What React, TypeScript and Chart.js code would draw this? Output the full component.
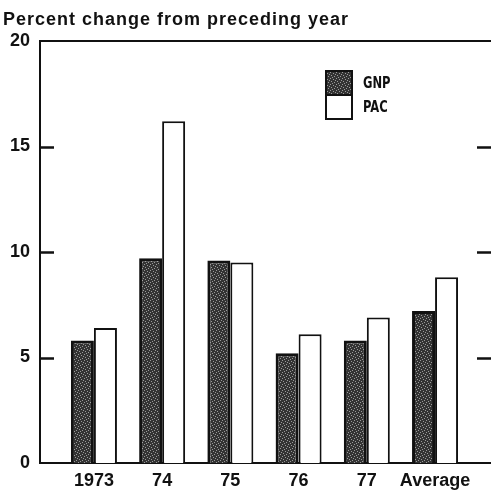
import React, { useEffect, useRef } from "react";
import { Chart, registerables } from "chart.js";

Chart.register(...registerables);

const categories = ["1973", "74", "75", "76", "77", "Average"];
const gnpValues = [5.8, 9.7, 9.6, 5.2, 5.8, 7.2];
const pacValues = [6.4, 16.2, 9.5, 6.1, 6.9, 8.8];
const seriesLabels = ["GNP", "PAC"];
const yTickValues = [0, 5, 10, 15, 20];
const titleText = "Percent change from preceding year";

const INK = "#111";
const FONT = "'Liberation Sans', Arial, Helvetica, sans-serif";

function makeStipple(): CanvasPattern | string {
  const c = document.createElement("canvas");
  c.width = 6;
  c.height = 6;
  const p = c.getContext("2d");
  if (!p) return "#444";
  p.fillStyle = "#333";
  p.fillRect(0, 0, 6, 6);
  p.fillStyle = "#9a9a9a";
  const spots = [
    [0, 0], [3, 1], [1, 3], [4, 4], [2, 5], [5, 2],
  ];
  spots.forEach(([x, y]) => p.fillRect(x, y, 1, 1));
  const pat = p.createPattern(c, "repeat");
  return pat || "#444";
}

export default function App() {
  const ref = useRef<HTMLCanvasElement | null>(null);

  useEffect(() => {
    const canvas = ref.current;
    if (!canvas) return;
    const stipple = makeStipple();

    const framePlugin = {
      id: "frame",
      afterDraw(chart: any) {
        const { ctx, chartArea, scales } = chart;
        const { left, right, top } = chartArea;
        const y = scales.y;
        ctx.save();
        ctx.strokeStyle = INK;
        ctx.lineWidth = 2;
        ctx.beginPath();
        ctx.moveTo(left - 1, top);
        ctx.lineTo(right, top);
        ctx.stroke();
        ctx.lineWidth = 2.5;
        yTickValues
          .filter((v) => v !== y.min && v !== y.max)
          .forEach((v) => {
            const py = Math.round(y.getPixelForValue(v)) + 0.5;
            ctx.beginPath();
            ctx.moveTo(left, py);
            ctx.lineTo(left + 14, py);
            ctx.moveTo(right - 14, py);
            ctx.lineTo(right, py);
            ctx.stroke();
          });
        // title
        ctx.fillStyle = INK;
        ctx.font = `bold 18px ${FONT}`;
        (ctx as any).letterSpacing = "1px";
        ctx.textBaseline = "alphabetic";
        ctx.textAlign = "left";
        ctx.fillText(titleText, 3, 25);
        (ctx as any).letterSpacing = "0px";
        // legend
        const lx = left + 286;
        let ly = top + 30;
        const bw = 26;
        const bh = 24;
        chart.data.datasets.forEach((ds: any) => {
          ctx.fillStyle = ds.backgroundColor;
          ctx.fillRect(lx, ly, bw, bh);
          ctx.strokeStyle = INK;
          ctx.lineWidth = 2;
          ctx.strokeRect(lx, ly, bw, bh);
          ctx.save();
          ctx.fillStyle = INK;
          ctx.font = `bold 16px 'Liberation Sans Narrow', 'DejaVu Sans Condensed', ${FONT}`;
          ctx.textBaseline = "middle";
          ctx.translate(lx + 37, ly + bh / 2 + 1);
          ctx.scale(0.8, 1);
          ctx.fillText(ds.label, 0, 0);
          ctx.restore();
          ly += bh;
        });
        ctx.restore();
      },
    };

    const chart = new Chart(canvas, {
      type: "bar",
      data: {
        datasets: [
          {
            label: seriesLabels[0],
            data: gnpValues.map((v, i) => ({ x: i, y: v })),
            backgroundColor: stipple as any,
            borderColor: INK,
            borderWidth: 3,
            categoryPercentage: 0.674,
            barPercentage: 1,
          },
          {
            label: seriesLabels[1],
            data: pacValues.map((v, i) => ({ x: i, y: v })),
            backgroundColor: "#ffffff",
            borderColor: INK,
            borderWidth: 2,
            categoryPercentage: 0.674,
            barPercentage: 1,
          },
        ],
      },
      options: {
        animation: false,
        responsive: false,
        devicePixelRatio: 1,
        layout: { padding: { top: 41, left: 0, right: 0, bottom: 0 } },
        plugins: {
          legend: { display: false },
          title: { display: false },
          tooltip: { enabled: false },
        },
        scales: {
          x: {
            type: "linear",
            offset: false,
            min: -0.79,
            max: 5.82,
            grid: { display: false, drawTicks: false },
            border: { display: true, color: INK, width: 2 },
            afterBuildTicks: (scale: any) => {
              scale.ticks = categories.map((_, i) => ({ value: i }));
            },
            afterFit: (scale: any) => {
              scale.height = 27;
            },
            ticks: {
              autoSkip: false,
              maxRotation: 0,
              padding: 7,
              color: INK,
              font: { family: FONT, size: 18, weight: "bold" },
              callback: (value: any) => categories[value as number] ?? "",
            },
          },
          y: {
            min: 0,
            max: 20,
            grid: { display: false, drawTicks: false },
            border: { display: true, color: INK, width: 2 },
            afterBuildTicks: (scale: any) => {
              scale.ticks = yTickValues.map((v) => ({ value: v }));
            },
            afterFit: (scale: any) => {
              scale.width = 40;
            },
            ticks: {
              padding: 10,
              color: INK,
              font: { family: FONT, size: 18, weight: "bold" },
            },
          },
        },
      },
      plugins: [framePlugin],
    } as any);

    return () => chart.destroy();
  }, []);

  return (
    <div style={{ position: "fixed", left: 0, top: 0, width: 491, height: 490, background: "#fff" }}>
      <canvas ref={ref} width={491} height={490} style={{ display: "block" }} />
    </div>
  );
}
